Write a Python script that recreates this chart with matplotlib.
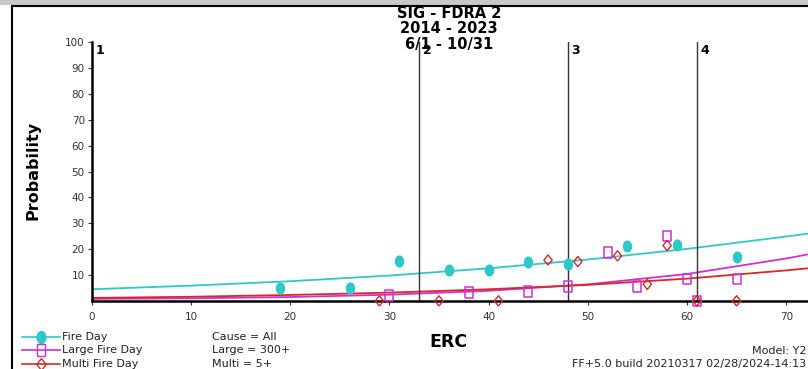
import numpy as np
import matplotlib
matplotlib.use('Agg')
import matplotlib.pyplot as plt
from matplotlib.lines import Line2D

plt.rcParams['font.family'] = ['DejaVu Sans']

fire_x = [19, 26, 31, 36, 40, 44, 48, 54, 59, 65]
fire_y = [5.0, 5.0, 15.5, 12.0, 12.0, 14.9, 14.4, 21.2, 21.6, 16.9]

large_x = [30, 38, 44, 48, 52, 55, 58, 60, 61, 65]
large_y = [2.0, 3.2, 3.6, 5.5, 18.7, 5.5, 25.1, 8.5, 0.0, 8.5]

multi_x = [29, 35, 41, 46, 49, 53, 56, 58, 61, 65]
multi_y = [0.0, 0.0, 0.0, 15.8, 15.2, 17.4, 6.4, 21.4, 0.0, 0.0]

# fitted curves, read at fixed ERC values
fit_x = [0, 10, 20, 30, 40, 50, 60, 70, 72.2]
fire_fit = [4.5, 5.9, 7.6, 9.8, 12.6, 16.0, 20.1, 24.9, 26.0]
large_fit = [0.8, 1.0, 1.5, 2.4, 3.9, 6.4, 10.4, 16.4, 18.0]
multi_fit = [1.15, 1.6, 2.3, 3.2, 4.5, 6.2, 8.6, 11.8, 12.6]

breaks = [0, 33, 48, 61]
break_labels = ['1', '2', '3', '4']

title_lines = ['SIG - FDRA 2', '2014 - 2023', '6/1 - 10/31']

c_fire = '#2ec8c8'
c_large = '#d030d0'
c_multi = '#d82828'

W, H = 808, 369
fig = plt.figure(figsize=(W / 100, H / 100), dpi=100)
fig.patch.set_facecolor('white')

def fx(px):
    return px / W

def fy(py):
    return 1 - py / H

ax = fig.add_axes([fx(91.7), fy(300.9), 1 - fx(91.7), fy(42.3) - fy(300.9)])

# marker shapes (a bit taller than wide, like the original)
t = np.linspace(0, 2 * np.pi, 30)
ell = list(zip(0.75 * np.cos(t), np.sin(t)))
rect = [(-0.75, -1), (0.75, -1), (0.75, 1), (-0.75, 1), (-0.75, -1)]
diam = [(0, -1), (0.8, 0), (0, 1), (-0.8, 0), (0, -1)]

ax.plot(fit_x, fire_fit, color=c_fire, lw=1.3)
ax.plot(fit_x, large_fit, color=c_large, lw=1.3)
ax.plot(fit_x, multi_fit, color=c_multi, lw=1.3)

for b, lab in zip(breaks, break_labels):
    if b > 0:
        ax.plot([b, b], [0, 100], color='#333333', lw=1.0)
    ax.text(b + 0.35, 97, lab, fontsize=9, fontweight='bold', va='center', ha='left')

ax.scatter(fire_x, fire_y, marker=ell, s=60, color=c_fire, zorder=5, clip_on=False)
ax.scatter(large_x, large_y, marker=rect, s=60, facecolors='none', edgecolors=c_large,
           linewidths=1.1, zorder=5, clip_on=False)
ax.scatter(multi_x, multi_y, marker=diam, s=55, facecolors='none', edgecolors=c_multi,
           linewidths=1.0, zorder=6, clip_on=False)

ax.set_xlim(0, 72.2)
ax.set_ylim(0, 100)
ax.set_xticks(range(0, 71, 10))
ax.set_yticks(range(10, 101, 10))
ax.tick_params(axis='both', labelsize=7.5, length=3, width=0.8, colors='#333333', pad=2)
ax.tick_params(axis='x', pad=5)
for s in ['top', 'right']:
    ax.spines[s].set_visible(False)
for s in ['left', 'bottom']:
    ax.spines[s].set_linewidth(1.8)
    ax.spines[s].set_color('black')

# title block
for i, line in enumerate(title_lines):
    fig.text(fx(449), fy(13 + 15.5 * i), line, ha='center', va='center',
             fontsize=10.5, fontweight='bold')

fig.text(fx(33), fy(170), 'Probability', rotation=90, ha='center', va='center',
         fontsize=11.5, fontweight='bold')
fig.text(fx(448), fy(342), 'ERC', ha='center', va='center', fontsize=12.5, fontweight='bold')

# legend, drawn by hand
leg = [('Fire Day', c_fire, ell, c_fire, 'Cause = All'),
       ('Large Fire Day', c_large, rect, 'none', 'Large = 300+'),
       ('Multi Fire Day', c_multi, diam, 'none', 'Multi = 5+')]
for i, (name, col, mk, fc, note) in enumerate(leg):
    yy = fy(336.7 + 13.6 * i)
    fig.add_artist(Line2D([fx(22), fx(60)], [yy, yy], color=col, lw=1.2))
    fig.add_artist(Line2D([fx(41)], [yy], marker=mk, markersize=8.5, color=col,
                          markerfacecolor=fc, markeredgecolor=col, markeredgewidth=1.0))
    fig.text(fx(62), yy, name, fontsize=8, va='center', ha='left', color='#222222')
    fig.text(fx(212), yy, note, fontsize=8, va='center', ha='left', color='#222222')

fig.text(fx(806), fy(351), 'Model: Y2', fontsize=8, ha='right', va='center', color='#222222')
fig.text(fx(806), fy(363.5), 'FF+5.0 build 20210317 02/28/2024-14:13', fontsize=8,
         ha='right', va='center', color='#222222')

# window frame at top and left
fig.add_artist(plt.Rectangle((0, fy(4.5)), 1, 1 - fy(4.5), transform=fig.transFigure,
                             color='#c8c8c8', lw=0))
fig.add_artist(Line2D([fx(12), 1], [fy(5.5), fy(5.5)], color='black', lw=1.5))
fig.add_artist(Line2D([fx(12), fx(12)], [0, fy(5.5)], color='black', lw=1.5))

fig.savefig('out.png', dpi=100)
